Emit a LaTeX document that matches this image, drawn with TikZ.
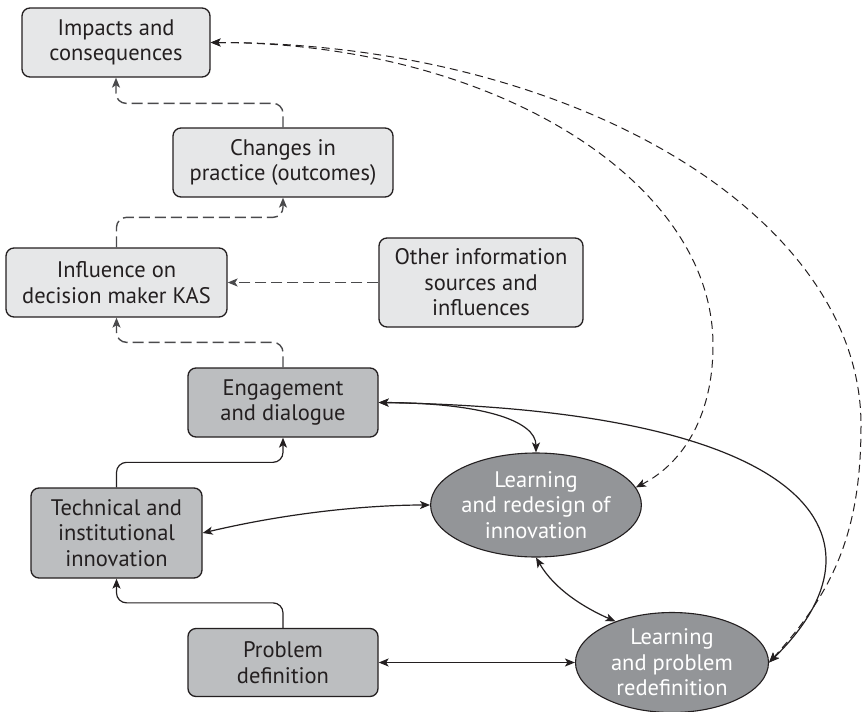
\documentclass[tikz,border=0pt]{standalone}
\usepackage{fontspec}
\setmainfont{PT Sans}
\usetikzlibrary{arrows.meta,shapes.geometric}
\definecolor{lightbox}{HTML}{E6E7E8}
\definecolor{darkbox}{HTML}{BCBEC0}
\definecolor{ellfill}{HTML}{939598}
\definecolor{ink}{HTML}{231F20}
\definecolor{dashink}{HTML}{4A4A4C}
\begin{document}
\begin{tikzpicture}[x=1pt,y=-1pt,
  txt/.style={font=\fontsize{22.5}{25.5}\selectfont, align=center, inner sep=0pt},
  box/.style={txt, draw=ink, line width=1.3pt, rounded corners=8pt, text=ink},
  lbox/.style={box, fill=lightbox},
  dbox/.style={box, fill=darkbox},
  ell/.style={txt, ellipse, draw=ink, line width=1.1pt, fill=ellfill, text=white},
  elbowdash/.style={draw=dashink, line width=1.4pt, dash pattern=on 11pt off 5pt, rounded corners=10pt, -{Stealth[length=10pt,width=8pt,inset=2.5pt]}},
  elbowsolid/.style={draw=ink, line width=1.2pt, rounded corners=10pt, -{Stealth[length=10pt,width=8pt,inset=2.5pt]}},
  both/.style={draw=ink, line width=1.2pt, {Stealth[length=10pt,width=8pt,inset=2.5pt]}-{Stealth[length=10pt,width=8pt,inset=2.5pt]}},
  arcdash/.style={draw=ink, line width=1pt, dash pattern=on 8pt off 5pt, {Stealth[length=10pt,width=8pt,inset=2.5pt]}-{Stealth[length=10pt,width=8pt,inset=2.5pt]}}
]
\useasboundingbox (0,0) rectangle (862,712);

\node[lbox, minimum width=188pt, minimum height=69pt] (imp) at (116,42.5) {Impacts and\\consequences};
\node[lbox, minimum width=220pt, minimum height=69pt] (chg) at (283,162.5) {Changes in\\practice (outcomes)};
\node[lbox, minimum width=221pt, minimum height=69pt] (inf) at (116.5,282.5) {Influence on\\decision maker KAS};
\node[lbox, minimum width=204pt, minimum height=89pt] (oth) at (481,282.5) {Other information\\sources and\\influences};
\node[dbox, minimum width=190pt, minimum height=69pt] (eng) at (283,402.5) {Engagement\\and dialogue};
\node[dbox, minimum width=171pt, minimum height=90pt] (tec) at (116.5,533) {Technical and\\institutional\\innovation};
\node[dbox, minimum width=190pt, minimum height=68pt] (prb) at (283,662.5) {Problem\\definition};
\node[ell, minimum width=194pt, minimum height=104pt] (lr1) at (536,505) {Learning\\and redesign of\\innovation};
\node[ell, minimum width=193pt, minimum height=100pt] (lr2) at (672,662.5) {Learning\\and problem\\redefinition};

% dashed elbow connectors
\draw[elbowdash] (chg.north) -- ++(0,-24) -| (imp.south);
\draw[elbowdash] (inf.north) -- ++(0,-30) -| (chg.south);
\draw[elbowdash] (eng.north) -- ++(0,-25) -| (inf.south);
\draw[elbowdash] (oth.west) -- (inf.east);

% solid elbow connectors
\draw[elbowsolid] (tec.north) -- ++(0,-25) -| (eng.south);
\draw[elbowsolid] (prb.north) -- ++(0,-25) -| (tec.south);

% solid two-way connectors
\draw[both] (eng.east) .. controls (480,403) and (536,420) .. (lr1.north);
\draw[both] (eng.east) .. controls (820,410) and (895,540) .. (lr2.east);
\draw[both] (tec.east) .. controls (300,510) and (380,505) .. (lr1.west);
\draw[both] (lr1.south) .. controls (555,590) and (585,608) .. (lr2.144);
\draw[both] (prb.east) -- (lr2.west);

% long dashed arcs
\draw[arcdash] (imp.east) .. controls (488,42.5) and (713,178) .. (713,345)
  .. controls (713,420) and (680,465) .. (lr1.10);
\draw[arcdash] (imp.east) .. controls (570,42.5) and (861,214) .. (861,425)
  .. controls (861,530) and (835,590) .. (lr2.east);
\end{tikzpicture}
\end{document}
